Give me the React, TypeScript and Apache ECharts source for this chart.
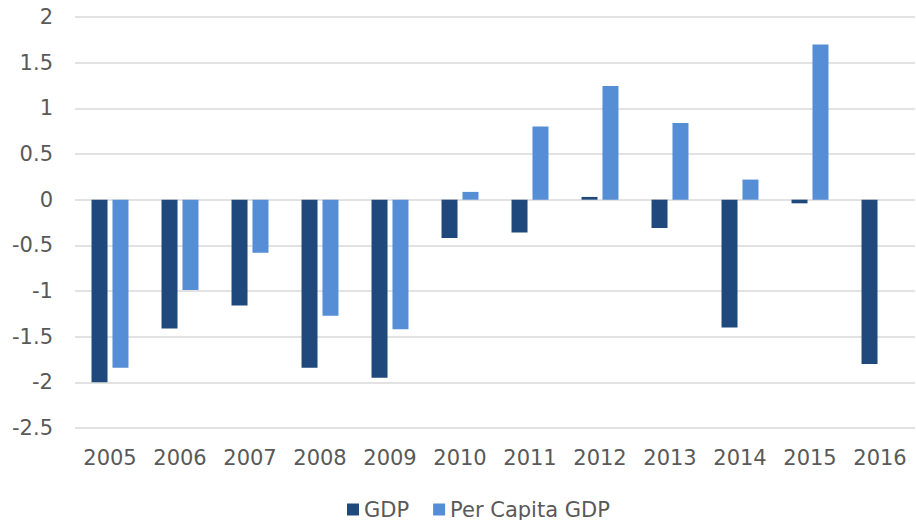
import React, { useEffect, useRef } from "react";
import * as echarts from "echarts";

const years = ["2005", "2006", "2007", "2008", "2009", "2010", "2011", "2012", "2013", "2014", "2015", "2016"];
const gdp = [-2.0, -1.41, -1.16, -1.84, -1.95, -0.42, -0.36, 0.03, -0.31, -1.4, -0.04, -1.8];
const perCapitaGdp = [-1.84, -0.99, -0.58, -1.27, -1.42, 0.085, 0.8, 1.245, 0.84, 0.22, 1.7, 0];

const FONT = "DejaVu Sans";
const TEXT = "#595959";

export default function App() {
  const ref = useRef<HTMLDivElement>(null);
  useEffect(() => {
    if (!ref.current) return;
    const chart = echarts.init(ref.current, null, { renderer: "svg" });
    chart.setOption({
      animation: false,
      grid: { left: 75, right: 1, top: 17, bottom: 92 },
      legend: {
        left: 342,
        top: 494,
        itemWidth: 12,
        itemHeight: 12,
        itemGap: 24,
        icon: "rect",
        textStyle: { color: TEXT, fontFamily: FONT, fontSize: 21 },
        data: ["GDP", "Per Capita GDP"],
      },
      xAxis: {
        type: "category",
        data: years,
        axisLine: { show: false },
        axisTick: { show: false },
        axisLabel: { color: TEXT, fontFamily: FONT, fontSize: 21, margin: 19 },
      },
      yAxis: {
        type: "value",
        min: -2.5,
        max: 2,
        interval: 0.5,
        axisLine: { show: false },
        axisTick: { show: false },
        axisLabel: { color: TEXT, fontFamily: FONT, fontSize: 21, margin: 22 },
        splitLine: { lineStyle: { color: "#d9d9d9", width: 1.5 } },
      },
      series: [
        {
          name: "GDP",
          type: "bar",
          data: gdp,
          barWidth: 16,
          barGap: "31%",
          itemStyle: { color: "#1f497d" },
        },
        {
          name: "Per Capita GDP",
          type: "bar",
          data: perCapitaGdp,
          barWidth: 16,
          itemStyle: { color: "#558ed5" },
        },
      ],
    });
    return () => chart.dispose();
  }, []);
  return <div ref={ref} style={{ width: 916, height: 520, position: "absolute", left: 0, top: 0 }} />;
}
